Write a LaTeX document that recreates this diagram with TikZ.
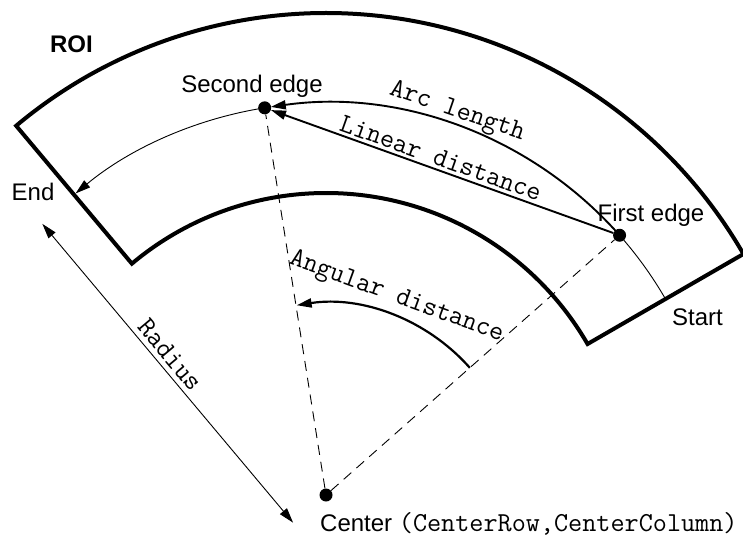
\documentclass[tikz,border=0pt]{standalone}
\usepackage{fontspec}
\setmainfont{Liberation Sans}
\usetikzlibrary{arrows.meta}
\begin{document}
\begin{tikzpicture}[x=1pt,y=1pt,
  roi/.style={line width=4pt, line join=miter},
  dot/.style={circle, fill=black, inner sep=0pt, minimum size=13pt},
  thinline/.style={line width=0.9pt},
  tipA/.style={-{Triangle[length=15pt,width=9pt]}},
  measarrow/.style={line width=1.9pt, tipA},
  guide/.style={line width=0.9pt, dash pattern=on 10pt off 7pt},
  lbl/.style={font=\fontsize{24}{28}\selectfont, inner sep=0pt},
  mono/.style={font=\fontsize{27.4}{30}\selectfont\ttfamily, inner sep=0pt},
]
\useasboundingbox (0,0) rectangle (743,536);
\begin{scope}[shift={(326,41)}]
  % ROI annular sector
  \draw[roi] (30:482pt) arc[start angle=30, end angle=130, radius=482pt]
    -- (130:302pt) arc[start angle=130, end angle=30, radius=302pt] -- cycle;
  % points
  \node[dot] (C) at (0,0) {};
  \node[dot] (F) at (41.5:392pt) {};
  \node[dot] (S) at (99:392pt) {};
  \coordinate (St) at (30:392pt);
  \coordinate (A0) at (41.5:192pt);
  \coordinate (R0) at (220:43pt);
  \coordinate (R1) at ([shift={(220:43pt)}]130:390pt);
  % arcs along the centre line
  \draw[thinline] (St) arc[start angle=30, end angle=41.5, radius=392pt];
  \draw[measarrow] (F.center) arc[start angle=41.5, end angle=98.1, radius=392pt];
  \draw[thinline, tipA] (S.center) arc[start angle=99, end angle=129.7, radius=392pt];
  % linear distance
  \draw[measarrow] (F) -- (S);
  % guides
  \draw[guide] (C) -- (S);
  \draw[guide] (C) -- (F);
  % angular distance
  \draw[measarrow, line width=2.2pt] (A0) arc[start angle=41.5, end angle=98.8, radius=192pt];
  % radius
  \draw[thinline, {Triangle[length=15pt,width=9pt]}-{Triangle[length=15pt,width=9pt]}] (R0) -- (R1);
\end{scope}
% labels
\node[lbl, font=\fontsize{24}{28}\selectfont\bfseries, anchor=base] (roiL) at (71.5,483) {ROI};
\node[lbl, anchor=base] (secL) at (252,443) {Second edge};
\node[lbl, anchor=base] (endL) at (33,335) {End};
\node[lbl, anchor=base] (firL) at (651,314) {First edge};
\node[lbl, anchor=base] (staL) at (697.5,211) {Start};
\node[lbl, anchor=base west] (cenL) at (320,5) {Center {\fontsize{27.4}{30}\selectfont\ttfamily (CenterRow,CenterColumn)}};
\node[mono, rotate=-19] (arcL) at (457,424) {Arc length};
\node[mono, rotate=-19.5] (linL) at (441,378) {Linear distance};
\node[mono, rotate=-20] (angL) at (396.5,238.5) {Angular distance};
\node[mono, rotate=-50] (radL) at (170,181) {Radius};
\end{tikzpicture}
\end{document}
